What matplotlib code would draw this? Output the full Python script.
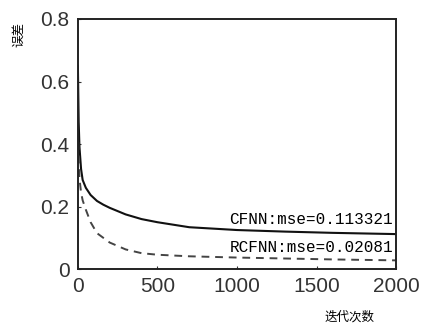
import numpy as np
import matplotlib
matplotlib.use('Agg')
import matplotlib.pyplot as plt

plt.rcParams['font.family'] = ['Liberation Sans', 'Noto Sans CJK SC', 'DejaVu Sans']

# 迭代次数与误差
iters = [0, 5, 10, 20, 30, 50, 80, 120, 160, 200, 300, 400, 500, 700, 1000, 1300, 1600, 2000]
cfnn = [0.65, 0.47, 0.39, 0.32, 0.285, 0.26, 0.237, 0.218, 0.206, 0.196, 0.175, 0.16, 0.15, 0.134, 0.125, 0.12, 0.116, 0.112]
rcfnn = [0.45, 0.35, 0.29, 0.245, 0.22, 0.19, 0.15, 0.115, 0.1, 0.085, 0.063, 0.051, 0.046, 0.041, 0.037, 0.034, 0.031, 0.028]

fig = plt.figure(figsize=(4.21, 3.27), dpi=100)
ax = fig.add_axes([0.185, 0.177, 0.756, 0.765])
ax.plot(iters, cfnn, '-', color='#111111', linewidth=1.5)
ax.plot(iters, rcfnn, '--', color='#444444', linewidth=1.4, dashes=(4, 3))
ax.set_xlim(0, 2000)
ax.set_ylim(0, 0.8)
ax.set_xticks([0, 500, 1000, 1500, 2000])
ax.set_yticks([0, 0.2, 0.4, 0.6, 0.8])
ax.set_yticklabels(['0', '0.2', '0.4', '0.6', '0.8'])
ax.tick_params(direction='in', length=2, labelsize=15, colors='#333333', pad=6)
for s in ax.spines.values():
    s.set_linewidth(1.4)
    s.set_color('#222222')

box = dict(facecolor='white', edgecolor='none', pad=1)
ax.text(1980, 0.16, 'CFNN:mse=0.113321', ha='right', va='center',
        family='Liberation Mono', fontsize=11.5, bbox=box)
ax.text(1980, 0.07, 'RCFNN:mse=0.02081', ha='right', va='center',
        family='Liberation Mono', fontsize=11.5, bbox=box)

fig.text(0.045, 0.893, '误差', rotation=90, ha='center', va='center',
         family=['Noto Sans CJK SC'], fontsize=9)
fig.text(0.831, 0.031, '迭代次数', ha='center', va='center',
         family=['Noto Sans CJK SC'], fontsize=9)

fig.savefig('out.png')
